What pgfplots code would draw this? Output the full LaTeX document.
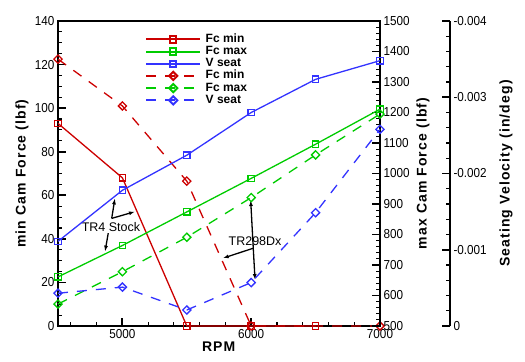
\documentclass[border=0pt]{standalone}
\usepackage{pgfplots}
\pgfplotsset{compat=1.18}
\usepackage{fontspec}
\setmainfont{Liberation Sans}
\newfontfamily\tickfont[FakeStretch=0.9]{Liberation Sans}
\newfontfamily\labelfont[LetterSpace=8]{Liberation Sans}
\usetikzlibrary{arrows.meta}
\definecolor{cred}{RGB}{204,0,0}
\definecolor{cgreen}{RGB}{0,204,0}
\definecolor{cblue}{RGB}{51,51,255}
\tikzset{arr/.style={-{Latex[length=6bp,width=4bp]}, line width=1.3bp, black}}

\begin{document}
\begin{tikzpicture}
\path[use as bounding box] (-58bp,-36bp) rectangle (467bp,326bp);
\pgfplotsset{
  base/.style={scale only axis, width=322bp, height=305bp, at={(0,0)}, anchor=south west,
    xmin=4500, xmax=7000, clip=false,
    tick align=inside,
    major tick length=8bp, minor tick length=4bp,
    every major tick/.append style={line width=1.8bp, black},
    every minor tick/.append style={line width=1.1bp, black},
    axis line style={line width=2.2bp, black},
    tick label style={font=\tickfont\fontsize{13bp}{15bp}\selectfont},
    label style={font=\labelfont\bfseries\fontsize{14bp}{16bp}\selectfont},
    /pgf/number format/assume math mode=true,
    /pgf/number format/1000 sep={},
    scaled x ticks=false, scaled y ticks=false,
  },
  sq/.style={mark=square, mark size=3.2bp, mark options={solid}},
  dm/.style={mark=square, mark size=2.9bp, mark options={solid, rotate=45}},
  dsh/.style={dash pattern=on 10bp off 9bp},
  dl/.style={line width=1.3bp},
}
% axis 1: min cam force
\begin{axis}[base,
  ymin=0, ymax=140,
  xtick={5000,6000,7000},
  minor xtick={4600,4800,5200,5400,5600,5800,6200,6400,6600,6800},
  ytick={0,20,...,140}, minor y tick num=3,
  xtick pos=lower, ytick pos=left,
  xlabel={RPM}, ylabel={min Cam Force (lbf)},
  xlabel style={at={(axis description cs:0.499,-0.0689)}, anchor=center},
  ylabel style={at={(axis description cs:-0.1118,0.5)}, anchor=center},
  legend style={draw=none, fill=none, at={(axis description cs:0.261,0.967)}, anchor=north west,
    font=\bfseries\fontsize{12bp}{12bp}\selectfont,
    nodes={inner sep=0.5bp, text height=8.5bp, text depth=2.7bp}, column sep=4bp},
  legend cell align=left,
  legend image code/.code={\draw[mark repeat=2,mark phase=2,#1] plot coordinates {(0bp,0bp) (27bp,0bp) (54bp,0bp)};},
]
\addlegendimage{cred, line width=2bp, sq}
\addlegendentry{Fc min}
\addlegendimage{cgreen, line width=2bp, sq}
\addlegendentry{Fc max}
\addlegendimage{cblue, line width=2bp, sq}
\addlegendentry{V seat}
\addlegendimage{cred, line width=2bp, dsh, dm}
\addlegendentry{Fc min}
\addlegendimage{cgreen, line width=2bp, dsh, dm}
\addlegendentry{Fc max}
\addlegendimage{cblue, line width=2bp, dsh, dm}
\addlegendentry{V seat}

\addplot[cred, dl, sq, forget plot] coordinates {(4500,93) (5000,68) (5500,0) (6000,0) (6500,0)};
\addplot[cred, dl, dsh, dm, forget plot] coordinates {(4500,122.5) (5000,101) (5500,66.5) (6000,0) (7000,0)};

\draw[arr] (axis cs:4917,49.4) -- (axis cs:4942,58.6);
\draw[arr] (axis cs:4917,49.4) -- (axis cs:5098,52.5);
\draw[arr] (axis cs:4890,42.6) -- (axis cs:4865,34.1);
\node[font=\fontsize{12.5bp}{14bp}\selectfont, inner sep=0pt] at (axis cs:4911,45.3) {TR4 Stock};
\draw[arr] (axis cs:6016,35.7) -- (axis cs:5996,57.8);
\draw[arr] (axis cs:6016,35.7) -- (axis cs:6030,21.1);
\draw[arr] (axis cs:6016,35.7) -- (axis cs:5779,31.1);
\node[font=\fontsize{12.5bp}{14bp}\selectfont, inner sep=0pt] at (axis cs:6030,39.0) {TR298Dx};
\end{axis}

% axis 2: max cam force
\begin{axis}[base,
  ymin=500, ymax=1500,
  axis x line=none, axis y line*=right,
  ytick={500,600,...,1500}, minor y tick num=4,
  ylabel={max Cam Force (lbf)},
  ylabel style={at={(axis description cs:1.1335,0.5)}, anchor=center},
]
\addplot[cgreen, dl, sq] coordinates {(4500,661) (5000,764) (5500,874) (6000,984) (6500,1096) (7000,1211)};
\addplot[cgreen, dl, dsh, dm] coordinates {(4500,572) (5000,678) (5500,791) (6000,921) (6500,1061) (7000,1195)};
\end{axis}

% axis 3: seating velocity data
\begin{axis}[base,
  ymin=-0.004, ymax=0, y dir=reverse, hide axis,
]
\addplot[cblue, dl, sq] coordinates {(4500,-0.00111) (5000,-0.00178) (5500,-0.00224) (6000,-0.00280) (6500,-0.003235) (7000,-0.00348)};
\addplot[cblue, dl, dsh, dm] coordinates {(4500,-0.00043) (5000,-0.00051) (5500,-0.00021) (6000,-0.00057) (6500,-0.001486) (7000,-0.00258)};
\end{axis}

% axis 4: seating velocity spine
\begin{axis}[scale only axis, width=10bp, height=305bp, at={(382bp,0)}, anchor=south west,
  xmin=0, xmax=1, ymin=-0.004, ymax=0, y dir=reverse,
  axis x line=none, axis y line*=right,
  scaled y ticks=false,
  tick align=inside,
  major tick length=8bp, minor tick length=4bp,
  every major tick/.append style={line width=1.8bp, black},
  every minor tick/.append style={line width=1.1bp, black},
  axis line style={line width=2.2bp, black},
  tick label style={font=\tickfont\fontsize{13bp}{15bp}\selectfont},
  label style={font=\labelfont\bfseries\fontsize{14bp}{16bp}\selectfont},
  ytick={0,-0.001,-0.002,-0.003,-0.004},
  yticklabels={0,-0.001,-0.002,-0.003,-0.004},
  minor y tick num=4,
  ylabel={Seating Velocity (in/deg)},
  ylabel style={at={(axis description cs:6.6,0.5)}, anchor=center},
]
\end{axis}
\end{tikzpicture}
\end{document}
